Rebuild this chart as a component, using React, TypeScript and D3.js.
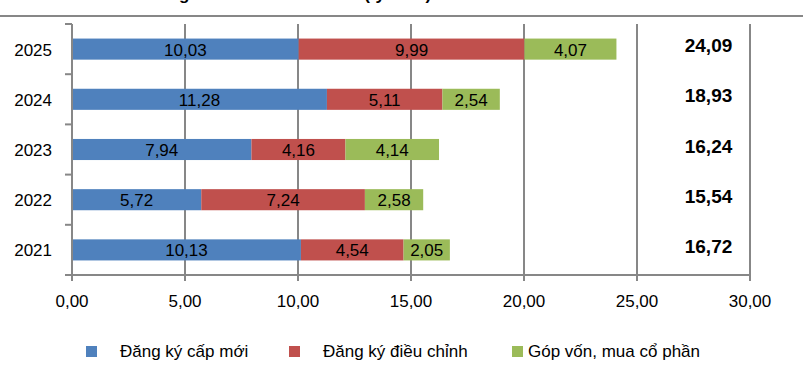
import React from 'react';
import * as d3 from 'd3';

// years from top to bottom, as in the chart
const years = ['2025', '2024', '2023', '2022', '2021'];
const newReg = [10.03, 11.28, 7.94, 5.72, 10.13];
const adjusted = [9.99, 5.11, 4.16, 7.24, 4.54];
const capital = [4.07, 2.54, 4.14, 2.58, 2.05];
const seriesNames = ['Đăng ký cấp mới', 'Đăng ký điều chỉnh', 'Góp vốn, mua cổ phần'];
const colors = ['#4F81BD', '#C0504D', '#9BBB59'];
const xTicks = [0, 5, 10, 15, 20, 25, 30];
const title = 'Vốn FDI 5 tháng đầu năm 2021 - 2025 (tỷ USD)';

const fmt = (v: number) => d3.format('.2f')(v).replace('.', ',');

const App = () => {
  const width = 803;
  const height = 368;
  const font = '"Liberation Sans", Arial, sans-serif';
  const grid = '#878787';

  const x = d3.scaleLinear().domain([0, 30]).range([72, 750]);
  const y = d3.scaleBand().domain(years).range([24, 275]).paddingInner(0.58).paddingOuter(0.29);
  const step = y.step();

  const series = [newReg, adjusted, capital];
  const rows = years.map((yr, i) => {
    const vals = series.map(s => s[i]);
    const ends = d3.cumsum(vals);
    return { yr, vals, ends, total: d3.sum(vals) };
  });

  // legend layout (square x, text x)
  const legendPos = [
    { sq: 86, tx: 120 },
    { sq: 289, tx: 323 },
    { sq: 512, tx: 528 },
  ];

  const totalX = (x(25) + x(30)) / 2 + 15;

  return (
    <svg width={width} height={height} style={{ position: 'absolute', left: 0, top: 0, background: '#fff' }}
      fontFamily={font}>
      {/* title sits above the crop, only its descenders show */}
      <text x={60} y={0} fontSize={17} fontWeight="bold">{title}</text>
      <line x1={0} x2={width} y1={16} y2={16} stroke={grid} strokeWidth={2} />

      {/* vertical gridlines with ticks below axis */}
      {xTicks.map(t => (
        <line key={t} x1={x(t)} x2={x(t)} y1={24} y2={281} stroke={grid} strokeWidth={2} />
      ))}
      {/* y axis ticks */}
      {d3.range(years.length + 1).map(i => {
        const yy = 24 + i * step;
        return <line key={i} x1={65} x2={72} y1={yy} y2={yy} stroke={grid} strokeWidth={2} />;
      })}
      <line x1={x(0)} x2={x(30)} y1={275} y2={275} stroke={grid} strokeWidth={2} />

      {rows.map(r => {
        const y0 = y(r.yr)!;
        const cy = y0 + y.bandwidth() / 2;
        return (
          <g key={r.yr}>
            {r.vals.map((v, k) => {
              const start = k === 0 ? 0 : r.ends[k - 1];
              return (
                <rect key={k} x={x(start)} y={y0} width={x(start + v) - x(start)} height={y.bandwidth()}
                  fill={colors[k]} />
              );
            })}
            {r.vals.map((v, k) => {
              const start = k === 0 ? 0 : r.ends[k - 1];
              return (
                <text key={'l' + k} x={x(start + v / 2)} y={cy + 6.5} fontSize={17} textAnchor="middle"
                  fill="#000">{fmt(v)}</text>
              );
            })}
            <text x={52} y={cy + 6.5} fontSize={17} textAnchor="end">{r.yr}</text>
            <text x={totalX} y={cy + 3} fontSize={19} fontWeight="bold" textAnchor="middle">{fmt(r.total)}</text>
          </g>
        );
      })}
      {/* redraw the y axis line above bars */}
      <line x1={72} x2={72} y1={24} y2={281} stroke={grid} strokeWidth={2} />

      {xTicks.map(t => (
        <text key={t} x={x(t)} y={307} fontSize={17} textAnchor="middle">{fmt(t)}</text>
      ))}

      {seriesNames.map((n, k) => (
        <g key={n}>
          <rect x={legendPos[k].sq} y={346} width={11} height={11} fill={colors[k]} />
          <text x={legendPos[k].tx} y={357} fontSize={17}>{n}</text>
        </g>
      ))}
    </svg>
  );
};

export default App;
